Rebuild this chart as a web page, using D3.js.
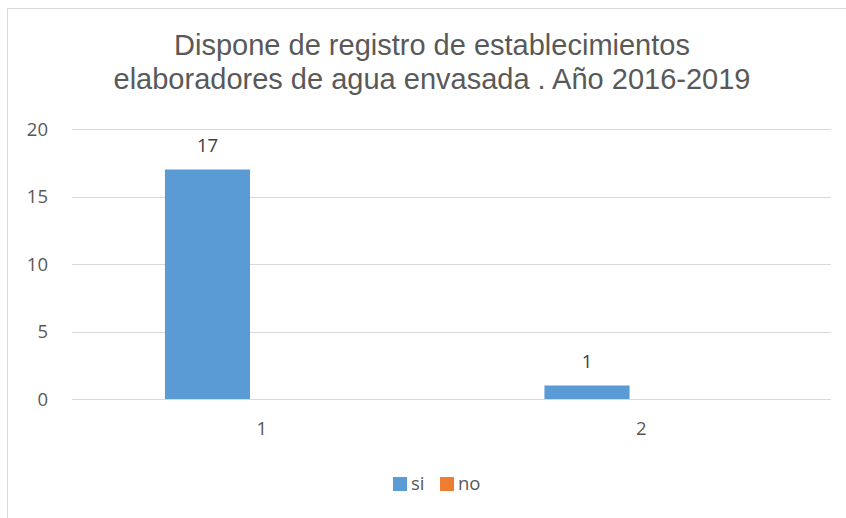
<!DOCTYPE html>
<meta charset="utf-8">
<script src="https://d3js.org/d3.v7.min.js"></script>
<style>
	body { margin: 0; background: #fff; }
	.grid line { stroke: #d9d9d9; stroke-width: 1px; }
	.axis text { fill: #595959; font: 18.5px "Open Sans", Lato, sans-serif; }
	.title { fill: #595959; font: 29px "Liberation Sans", Arial, sans-serif; }
	.lbl { fill: #404040; font: 18.5px "Open Sans", Lato, sans-serif; }
	.legend text { fill: #595959; font: 18.5px "Open Sans", Lato, sans-serif; }
</style>
<body>
	<div id="chart"></div>
</body>
<script>
	// data
	const categories = ["1", "2"];
	const series = ["si", "no"];
	const si = [17, 1];
	const no = [null, null];
	const yTicks = [0, 5, 10, 15, 20];
	const titleLines = ["Dispone de registro de establecimientos",
		"elaboradores de agua envasada . Año 2016-2019"];
	const colors = { si: "#5b9bd5", no: "#ed7d31" };

	const width = 846, height = 518;
	const margin = { top: 129, right: 15, bottom: 119, left: 72 };

	const svg = d3.select("#chart").append("svg")
		.attr("width", width)
		.attr("height", height);

	// chart frame (only left and top edges are visible in the picture)
	svg.append("path")
		.attr("d", "M7.5," + height + "V8.5H" + width)
		.attr("fill", "none")
		.attr("stroke", "#d9d9d9");

	const x0 = d3.scaleBand()
		.domain(categories)
		.range([margin.left, width - margin.right]);

	const x1 = d3.scaleBand()
		.domain(series)
		.range([0, x0.bandwidth()])
		.paddingOuter(1.23)
		.align(0.444);

	const y = d3.scaleLinear()
		.domain([0, 20])
		.range([height - margin.bottom, margin.top]);

	// gridlines
	svg.append("g")
		.attr("class", "grid")
		.selectAll("line")
		.data(yTicks)
		.enter().append("line")
		.attr("x1", margin.left)
		.attr("x2", width - margin.right)
		.attr("y1", d => Math.round(y(d)) + 0.5)
		.attr("y2", d => Math.round(y(d)) + 0.5);

	// y axis labels
	const yAxis = svg.append("g")
		.attr("class", "axis")
		.attr("transform", "translate(" + (margin.left - 24) + ",0)")
		.call(d3.axisLeft(y).tickValues(yTicks).tickSize(0).tickPadding(0));
	yAxis.select(".domain").remove();
	yAxis.selectAll("text").attr("dy", "0.35em");

	// x axis labels
	const xAxis = svg.append("g")
		.attr("class", "axis")
		.attr("transform", "translate(0," + (height - margin.bottom) + ")")
		.call(d3.axisBottom(x0).tickSize(0).tickPadding(23));
	xAxis.select(".domain").remove();

	// bars
	const rows = categories.map((c, i) => ({ cat: c, si: si[i], no: no[i] }));

	const groups = svg.append("g").selectAll("g")
		.data(rows)
		.enter().append("g")
		.attr("transform", d => "translate(" + x0(d.cat) + ",0)");

	groups.selectAll("rect")
		.data(d => series.map(s => ({ key: s, value: d[s] })).filter(e => e.value != null))
		.enter().append("rect")
		.attr("x", d => x1(d.key))
		.attr("width", x1.bandwidth())
		.attr("y", d => y(d.value))
		.attr("height", d => y(0) - y(d.value))
		.attr("fill", d => colors[d.key]);

	groups.selectAll("text")
		.data(d => series.map(s => ({ key: s, value: d[s] })).filter(e => e.value != null))
		.enter().append("text")
		.attr("class", "lbl")
		.attr("text-anchor", "middle")
		.attr("x", d => x1(d.key) + x1.bandwidth() / 2)
		.attr("y", d => y(d.value) - 18)
		.text(d => d.value);

	// title
	svg.append("text")
		.attr("class", "title")
		.attr("text-anchor", "middle")
		.selectAll("tspan")
		.data(titleLines)
		.enter().append("tspan")
		.attr("x", 432)
		.attr("y", (d, i) => 55 + i * 34)
		.text(d => d);

	// legend
	const legend = svg.append("g")
		.attr("class", "legend")
		.attr("transform", "translate(393,477)");
	const item = legend.selectAll("g")
		.data(series)
		.enter().append("g")
		.attr("transform", (d, i) => "translate(" + (i * 47) + ",0)");
	item.append("rect")
		.attr("width", 14)
		.attr("height", 14)
		.attr("fill", d => colors[d]);
	item.append("text")
		.attr("x", 18)
		.attr("y", 13)
		.text(d => d);
</script>
